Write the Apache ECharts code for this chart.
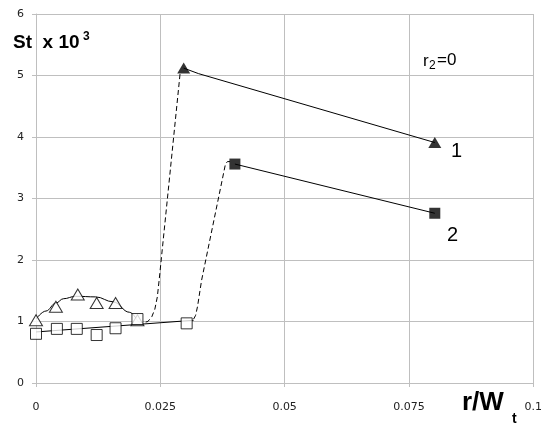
<!DOCTYPE html>
<html>
<head>
<meta charset="utf-8">
<script src="https://cdn.jsdelivr.net/npm/echarts@6/dist/echarts.min.js"></script>
<style>
html,body{margin:0;padding:0;background:#fff;}
#chart{width:545px;height:435px;}
</style>
</head>
<body>
<div id="chart"></div>
<script>
// Marker data (series 1 = triangles, series 2 = squares)
var openTriX = [0, 0.004, 0.0084, 0.0122, 0.016, 0.0204];
var openTriY = [1.02, 1.24, 1.44, 1.30, 1.30, 1.02];
var openSqX = [0, 0.0042, 0.0082, 0.0122, 0.016, 0.0204, 0.0303];
var openSqY = [0.80, 0.88, 0.88, 0.78, 0.89, 1.04, 0.97];
var fillTriX = [0.0297, 0.0802];
var fillTriY = [5.12, 3.91];
var fillSqX = [0.040, 0.0802];
var fillSqY = [3.56, 2.76];

// Hand-drawn trend curves
var triLowCurveX = [0, 0.002, 0.004, 0.0055, 0.008, 0.012, 0.0155, 0.0188, 0.0205];
var triLowCurveY = [1.04, 1.17, 1.30, 1.37, 1.41, 1.40, 1.32, 1.15, 1.0];
var triJumpX = [0.0205, 0.0215, 0.0225, 0.0233, 0.0239, 0.0244, 0.0248, 0.029];
var triJumpY = [1.0, 0.98, 1.0, 1.08, 1.2, 1.4, 1.7, 5.05];
var triHighX = [0.0297, 0.0327, 0.0802];
var triHighY = [5.12, 5.03, 3.91];
var sqLowLineX = [0, 0.0317];
var sqLowLineY = [0.83, 1.02];
var sqJumpX = [0.0317, 0.0321, 0.0325, 0.0333, 0.0381, 0.0385, 0.039];
var sqJumpY = [1.04, 1.1, 1.25, 1.67, 3.56, 3.6, 3.6];
var sqHighX = [0.040, 0.0802];
var sqHighY = [3.56, 2.76];

var xTicks = [0, 0.025, 0.05, 0.075, 0.1];
var xTickLabels = ['0', '0.025', '0.05', '0.075', '0.1'];

function pairs(xs, ys) { return xs.map(function (x, i) { return [x, ys[i]]; }); }

var chart = echarts.init(document.getElementById('chart'), null, {renderer: 'canvas'});

var gridColor = '#bfbfbf';
var lineSeries = function (xs, ys, dashed, smooth) {
  return {
    type: 'line', data: pairs(xs, ys), showSymbol: false, symbol: 'none',
    smooth: smooth, smoothMonotone: 'x', silent: true, z: 2,
    lineStyle: {color: '#000', width: 1, type: dashed ? [5, 3] : 'solid'}
  };
};
var txt = function (s, x, y, size, bold) {
  return {type: 'text', z: 10, style: {text: s, x: x, y: y, fill: '#000',
    fontFamily: 'Liberation Sans', fontSize: size, fontWeight: bold ? 'bold' : 'normal',
    textVerticalAlign: 'middle', verticalAlign: 'middle'}};
};

chart.setOption({
  animation: false,
  backgroundColor: '#fff',
  grid: {left: 36, right: 8, top: 14, bottom: 52, containLabel: false},
  xAxis: {
    type: 'value', min: 0, max: 0.1, interval: 0.025,
    axisLine: {show: true, lineStyle: {color: gridColor}},
    axisTick: {show: true, length: 4, lineStyle: {color: gridColor}},
    splitLine: {show: true, lineStyle: {color: gridColor, width: 1}},
    axisLabel: {
      margin: 19, color: '#222', fontFamily: 'DejaVu Sans', fontSize: 11,
      formatter: function (v) {
        for (var i = 0; i < xTicks.length; i++) if (Math.abs(xTicks[i] - v) < 1e-9) return xTickLabels[i];
        return '';
      }
    }
  },
  yAxis: {
    type: 'value', min: 0, max: 6, interval: 1,
    axisLine: {show: true, lineStyle: {color: gridColor}},
    axisTick: {show: true, length: 4, lineStyle: {color: gridColor}},
    splitLine: {show: true, lineStyle: {color: gridColor, width: 1}},
    axisLabel: {margin: 12, color: '#222', fontFamily: 'DejaVu Sans', fontSize: 11}
  },
  series: [
    lineSeries(triLowCurveX, triLowCurveY, false, 0.4),
    lineSeries(triJumpX, triJumpY, true, false),
    lineSeries(triHighX, triHighY, false, false),
    lineSeries(sqLowLineX, sqLowLineY, false, false),
    lineSeries(sqJumpX, sqJumpY, true, false),
    lineSeries(sqHighX, sqHighY, false, false),
    {type: 'scatter', data: pairs(openTriX, openTriY), symbol: 'triangle', symbolSize: [13, 11], z: 5,
      itemStyle: {color: '#fff', borderColor: '#000', borderWidth: 1}},
    {type: 'scatter', data: pairs(openSqX, openSqY), symbol: 'rect', symbolSize: 11, z: 5,
      itemStyle: {color: '#fff', borderColor: '#000', borderWidth: 1}},
    {type: 'scatter', data: pairs(fillTriX, fillTriY), symbol: 'triangle', symbolSize: [13, 11], z: 5,
      itemStyle: {color: '#000'}},
    {type: 'scatter', data: pairs(fillSqX, fillSqY), symbol: 'rect', symbolSize: 11, z: 5,
      itemStyle: {color: '#000'}}
  ],
  graphic: [
    txt('St  x 10', 13, 43, 19, true),
    txt('3', 83, 37, 12, true),
    txt('r', 423, 61, 17, false),
    txt('2', 429, 66, 12, false),
    txt('=0', 437, 60, 17, false),
    txt('1', 451, 151, 20, false),
    txt('2', 447, 235, 20, false),
    txt('r/W', 462, 403, 26, true),
    txt('t', 512, 419, 14, true)
  ]
});
</script>
</body>
</html>
